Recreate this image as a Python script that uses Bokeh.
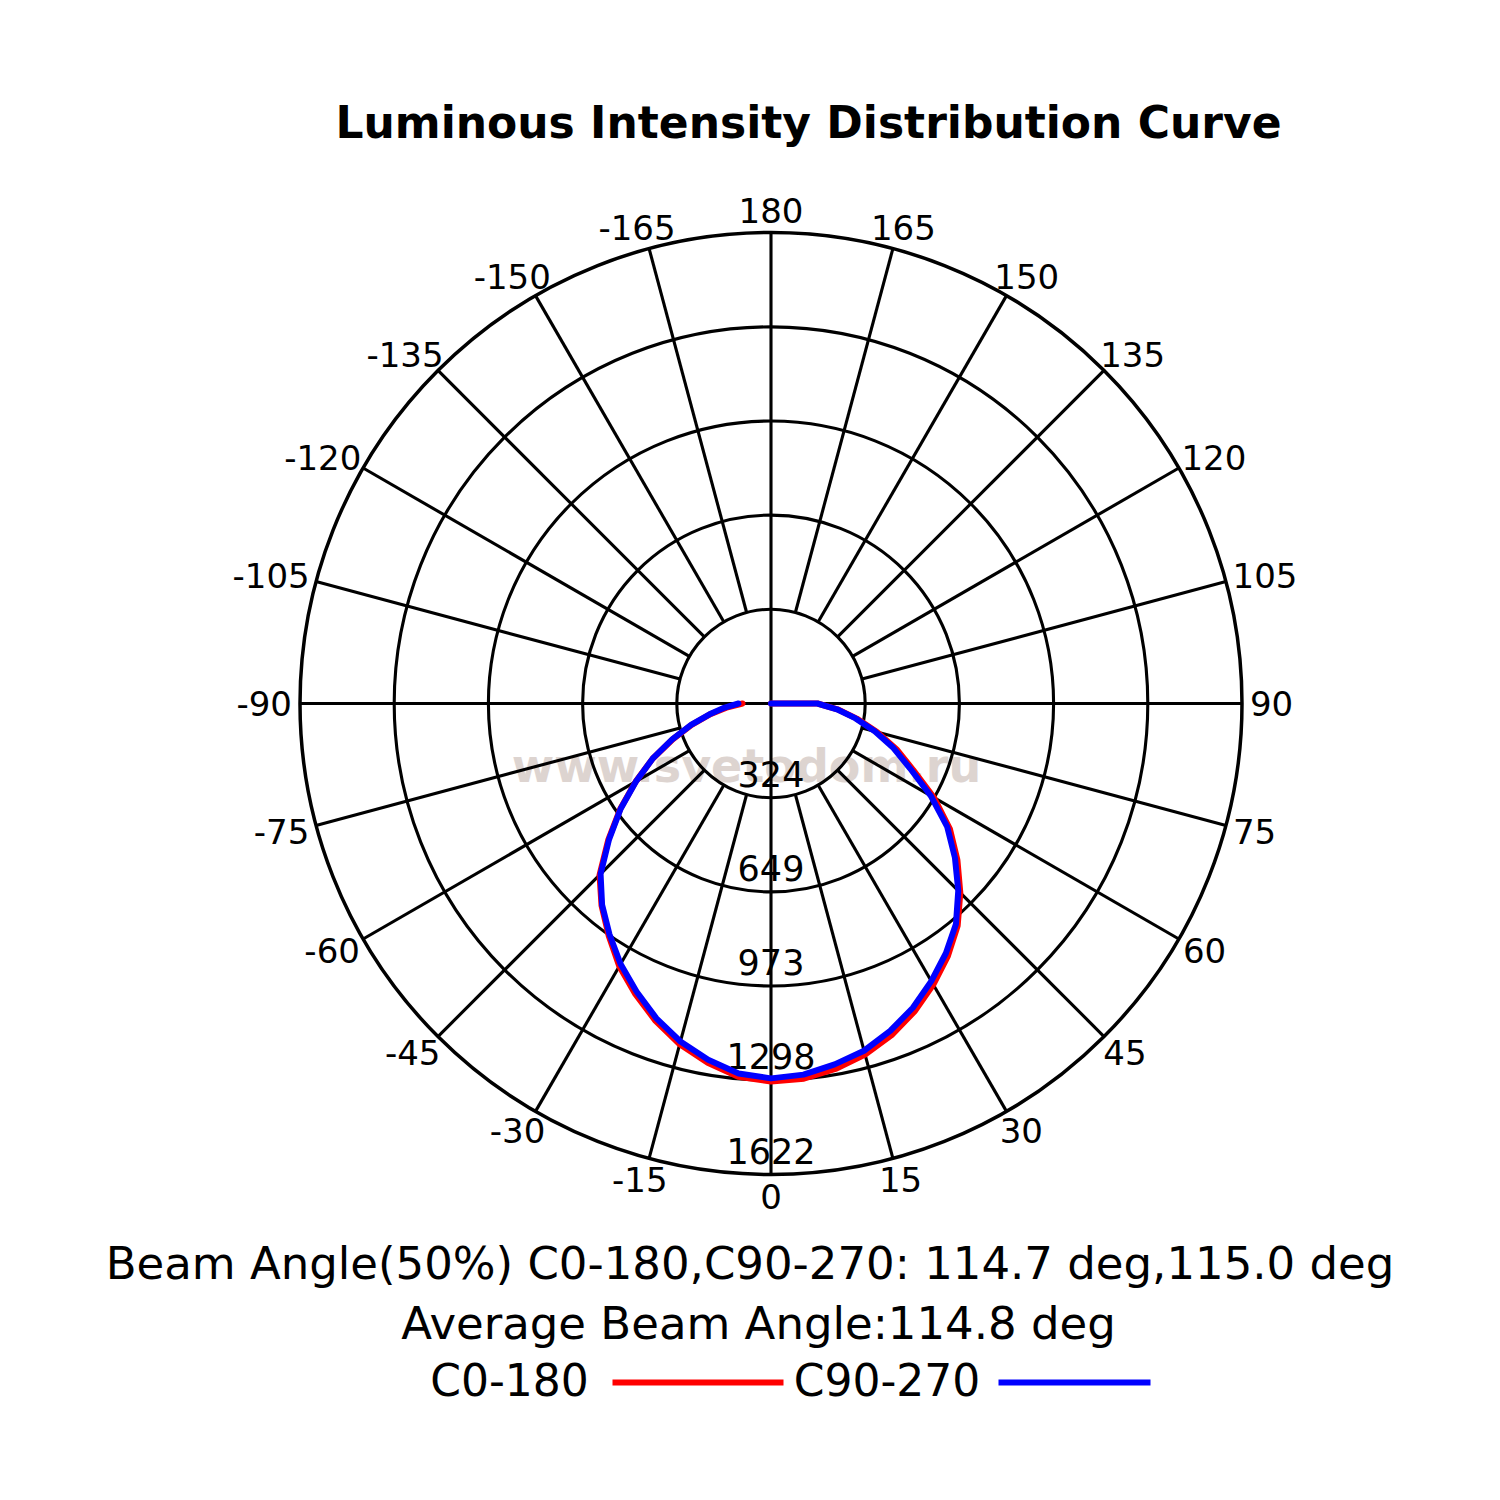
import numpy as np
from bokeh.plotting import figure
from bokeh.models import Range1d
from bokeh.core.properties import value
from bokeh.embed import file_html
from bokeh.resources import INLINE

# ---- data ----
TITLE = "Luminous Intensity Distribution Curve"
MAX_CD = 1622
RING_LABELS = ["324", "649", "973", "1298", "1622"]
TICK_ANGLES = list(range(-165, 181, 15))

CURVE_ANGLES = list(range(-90, 96, 5))
C0_180 = [98, 150, 212, 283, 360, 450, 538, 634, 732, 835, 908, 975, 1045, 1105, 1163,
          1215, 1256, 1290, 1302, 1297, 1278, 1252, 1215, 1170, 1118, 1062, 1000, 922,
          838, 752, 648, 540, 460, 378, 300, 230, 160, 0]
C90_270 = [112, 160, 215, 285, 362, 450, 537, 632, 728, 830, 905, 970, 1036, 1095, 1154,
           1205, 1246, 1279, 1291, 1283, 1262, 1238, 1200, 1156, 1104, 1050, 991, 912,
           827, 741, 635, 528, 449, 370, 296, 228, 160, 0]

BEAM_TEXT = "Beam Angle(50%) C0-180,C90-270: 114.7 deg,115.0 deg"
AVG_TEXT = "Average Beam Angle:114.8 deg"
LEGEND_NAMES = ["C0-180", "C90-270"]
LEGEND_COLORS = ["red", "blue"]
WATERMARK = "www.svetodom.ru"

# ---- layout (pixels) ----
W = H = 1484
CX, CY = 770.5, 703.0   # polar centre
R_PX = 471.0            # outer ring radius
S = MAX_CD / R_PX       # cd per pixel
FONT = "DejaVu Sans"


def page(x, y):
    """pixel -> data coords (cd)"""
    return (x - CX) * S, (CY - y) * S


def polar(angle_deg, r):
    a = np.radians(angle_deg)
    return np.asarray(r) * np.sin(a), -np.asarray(r) * np.cos(a)


p = figure(width=W, height=H, output_backend="svg", toolbar_location=None,
           x_range=Range1d(-CX * S, (W - CX) * S),
           y_range=Range1d((CY - H) * S, CY * S),
           min_border=0)
p.axis.visible = False
p.grid.visible = False
p.outline_line_color = None
p.background_fill_color = "white"

# watermark
wx, wy = page(746, 765)
p.text(x=[wx], y=[wy], text=[WATERMARK], text_font=value(FONT), text_font_style="bold",
       text_font_size=value("46px"), text_color="#ddd4d0", text_align="center",
       text_baseline="alphabetic")

# rings
rings = [MAX_CD * k / 5 for k in range(1, 6)]
p.circle(x=[0] * 5, y=[0] * 5, radius=rings, fill_color=None, line_color="black",
         line_width=[3.1, 3.1, 3.1, 3.1, 3.5])

# radial lines
x0, y0, x1, y1 = [], [], [], []
for a in TICK_ANGLES:
    r0 = 0 if a % 90 == 0 else rings[0]
    sx, sy = polar(a, r0)
    ex, ey = polar(a, MAX_CD)
    x0.append(sx); y0.append(sy); x1.append(ex); y1.append(ey)
p.segment(x0=x0, y0=y0, x1=x1, y1=y1, line_color="black", line_width=3.1)

# angle labels
fs = 34
lx, ly, lt = [], [], []
for a in TICK_ANGLES:
    t = str(a)
    w = fs * (0.636 * sum(c.isdigit() for c in t) + 0.361 * t.count("-"))
    h = 28
    ux, uy = np.sin(np.radians(a)), -np.cos(np.radians(a))
    ox = (R_PX + 8) * ux + ux * w / 2
    oy = (R_PX + 8) * uy + uy * h / 2
    lx.append(ox * S); ly.append(oy * S); lt.append(t)
p.text(x=lx, y=ly, text=lt, text_font=value(FONT), text_font_size=value(f"{fs}px"),
       text_align="center", text_baseline="middle", text_color="black")

# ring labels
p.text(x=[0] * 5, y=[-(r - 24 * S) for r in rings], text=RING_LABELS,
       text_font=value(FONT), text_font_size=value("35px"), text_align="center",
       text_baseline="middle", text_color="black")

# curves
for vals, col in zip([C0_180, C90_270], LEGEND_COLORS):
    cx, cy = polar(np.array(CURVE_ANGLES, dtype=float), vals)
    p.line(x=cx, y=cy, line_color=col, line_width=6, line_join="round", line_cap="round")

# title and beam texts
tx, ty = page(808, 122)
p.text(x=[tx], y=[ty], text=[TITLE], text_font=value(FONT), text_font_style="bold",
       text_font_size=value("44px"), text_align="center", text_baseline="middle")
bx, by = page(749.5, 1263)
p.text(x=[bx], y=[by], text=[BEAM_TEXT], text_font=value(FONT),
       text_font_size=value("45px"), text_align="center", text_baseline="middle")
ax_, ay_ = page(758, 1323)
p.text(x=[ax_], y=[ay_], text=[AVG_TEXT], text_font=value(FONT),
       text_font_size=value("45px"), text_align="center", text_baseline="middle")

# legend
legend_text_x = [509, 886.5]
legend_line = [(612, 783), (998, 1150)]
for name, col, tx_, (la, lb) in zip(LEGEND_NAMES, LEGEND_COLORS, legend_text_x, legend_line):
    gx, gy = page(tx_, 1380)
    p.text(x=[gx], y=[gy], text=[name], text_font=value(FONT),
           text_font_size=value("44px"), text_align="center", text_baseline="middle")
    sx, sy = page(la, 1382)
    ex, ey = page(lb, 1382)
    p.segment(x0=[sx], y0=[sy], x1=[ex], y1=[ey], line_color=col, line_width=6)

open("out.html", "w").write(file_html(p, INLINE))
